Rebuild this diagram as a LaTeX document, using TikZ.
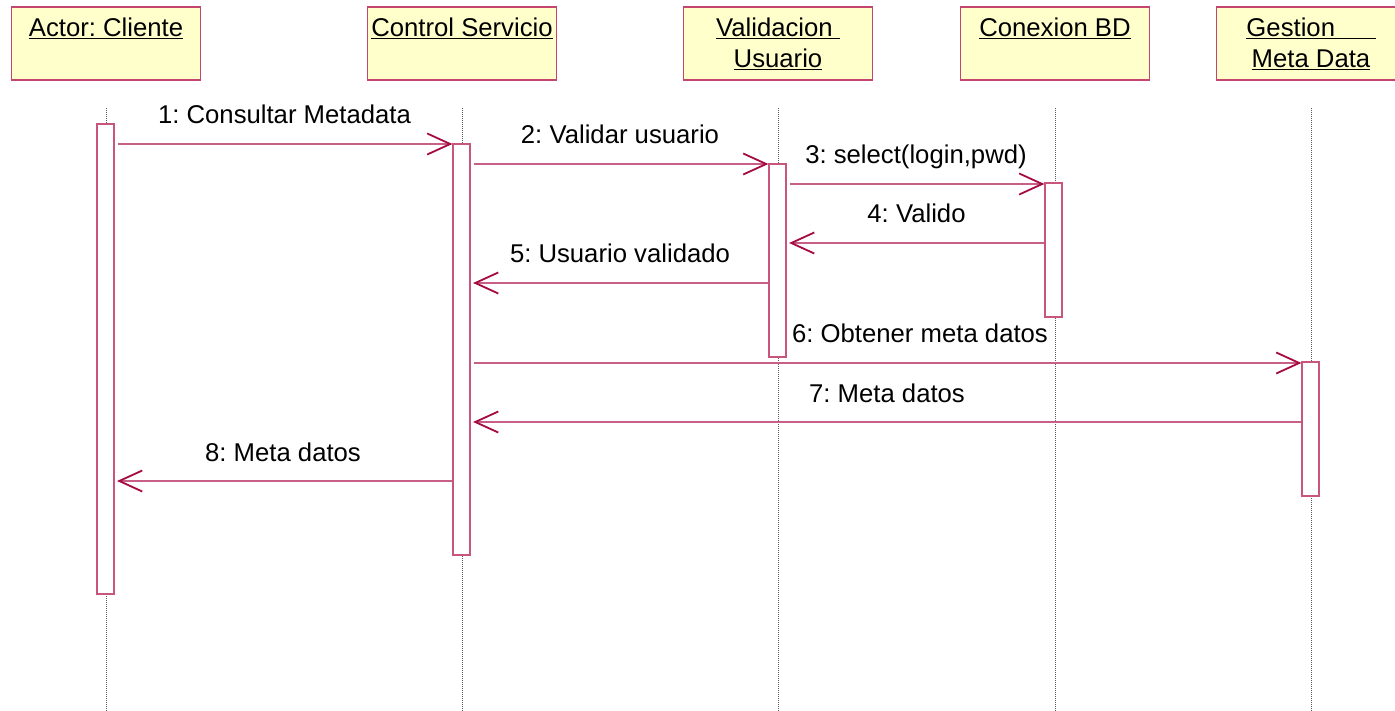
\documentclass[tikz,border=0pt]{standalone}
\usepackage{fontspec}
\setmainfont{Liberation Sans}
\frenchspacing
\usetikzlibrary{arrows.meta,calc}
\definecolor{hdrfill}{RGB}{255,255,204}
\definecolor{hdrline}{RGB}{196,70,110}
\definecolor{actline}{RGB}{200,85,125}
\definecolor{msgline}{RGB}{200,95,135}
\definecolor{tipred}{RGB}{165,10,65}
\definecolor{lifegray}{RGB}{90,90,90}
\begin{document}
\begin{tikzpicture}[x=1pt,y=-1pt,
  txt/.style={font=\fontsize{25.7}{31}\selectfont, inner sep=0pt, anchor=base, text=black},
  hdr/.style={draw=hdrline, line width=1.2pt, fill=hdrfill, minimum width=189pt, minimum height=73pt, inner sep=0pt},
  actbox/.style={draw=actline, line width=1.2pt, fill=white, minimum width=17pt, inner sep=0pt},
  lifeln/.style={draw=lifegray, line width=0.8pt, dash pattern=on 1pt off 1pt},
  msg/.style={draw=msgline, line width=1.3pt,
    -{Straight Barb[length=23pt,width=21pt,line width=1.8pt,color=tipred]}},
]
\useasboundingbox (0,0) rectangle (1395,711);

% object headers
\node[hdr] (h1) at (106,43.5) {};
\node[hdr] (h2) at (462,43.5) {};
\node[hdr] (h3) at (778,43.5) {};
\node[hdr] (h4) at (1055,43.5) {};
\node[hdr] (h5) at (1311,43.5) {};

\node[txt] (t1) at (106,37) {\underline{Actor: Cliente}};
\node[txt] (t2) at (462,37) {\underline{Control Servicio}};
\node[txt] (t3a) at (778,37) {\underline{Validacion\ }};
\node[txt] (t3b) at (778,68) {\underline{Usuario}};
\node[txt] (t4) at (1055,37) {\underline{Conexion BD}};
\node[txt] (t5a) at (1311,37) {\underline{Gestion\hspace{40.5pt}}};
\node[txt] (t5b) at (1311,68) {\underline{Meta Data}};

% lifelines
\coordinate (e1) at (106,711);
\coordinate (e2) at (462,711);
\coordinate (e3) at (778,711);
\coordinate (e4) at (1055,711);
\coordinate (e5) at (1311,711);
\draw[lifeln] (h1.south |- 0,108) -- (e1);
\draw[lifeln] (h2.south |- 0,108) -- (e2);
\draw[lifeln] (h3.south |- 0,108) -- (e3);
\draw[lifeln] (h4.south |- 0,108) -- (e4);
\draw[lifeln] (h5.south |- 0,108) -- (e5);

% activation bars
\node[actbox, minimum height=470pt] (a1) at (105.5,359) {};
\node[actbox, minimum height=411pt] (a2) at (461.5,349.5) {};
\node[actbox, minimum height=193pt] (a3) at (777.5,260.5) {};
\node[actbox, minimum height=134pt] (a4) at (1053.5,250) {};
\node[actbox, minimum height=134pt] (a5) at (1310.5,429) {};

% messages
\draw[msg] ($(a1.east |- 0,144)+(3,0)$) -- (a2.west |- 0,144);
\draw[msg] ($(a2.east |- 0,164)+(3,0)$) -- (a3.west |- 0,164);
\draw[msg] ($(a3.east |- 0,184)+(3,0)$) -- (a4.west |- 0,184);
\draw[msg] (a4.west |- 0,243) -- ($(a3.east |- 0,243)+(2.5,0)$);
\draw[msg] (a3.west |- 0,283) -- ($(a2.east |- 0,283)+(2.5,0)$);
\draw[msg] ($(a2.east |- 0,363)+(3,0)$) -- (a5.west |- 0,363);
\draw[msg] (a5.west |- 0,422) -- ($(a2.east |- 0,422)+(2.5,0)$);
\draw[msg] (a2.west |- 0,481) -- ($(a1.east |- 0,481)+(2.5,0)$);

% message labels
\node[txt] (m1) at (284.5,124) {1: Consultar Metadata};
\node[txt] (m2) at (620,143.5) {2: Validar usuario};
\node[txt] (m3) at (916,164) {3: select(login,pwd)};
\node[txt] (m4) at (916.5,223) {4: Valido};
\node[txt] (m5) at (620,263) {5: Usuario validado};
\node[txt] (m6) at (920,342) {6: Obtener meta datos};
\node[txt] (m7) at (887,402) {7: Meta datos};
\node[txt] (m8) at (283,461.5) {8: Meta datos};
\end{tikzpicture}
\end{document}
